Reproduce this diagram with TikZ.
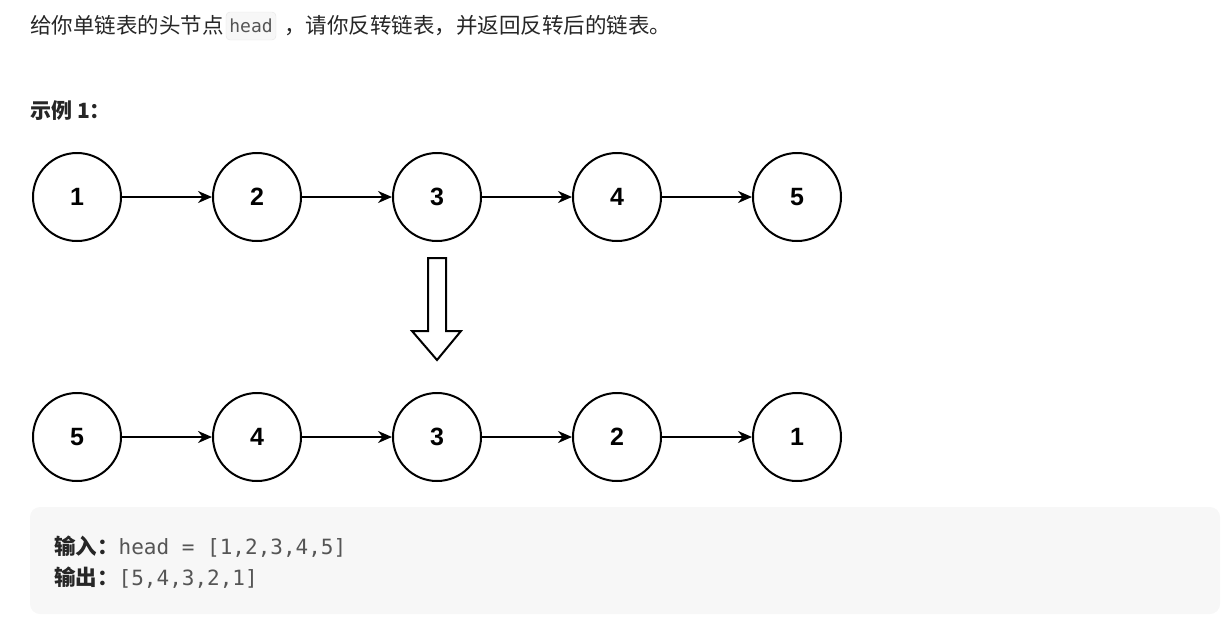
\documentclass[tikz,border=0pt]{standalone}
\usepackage{fontspec}
\setmainfont{Liberation Sans}
\setmonofont{DejaVu Sans Mono}
\newfontfamily\cjk{Noto Sans CJK SC}
\usetikzlibrary{chains,positioning,arrows.meta}
\definecolor{boxgray}{HTML}{F7F7F7}
\definecolor{codegray}{HTML}{555555}
\tikzset{
  item/.style={ % one element of the list
    circle, draw, line width=2pt, minimum size=88pt, inner sep=0pt,
    font=\fontsize{25}{25}\selectfont\bfseries, on chain
  },
  link/.style={-{Stealth[length=14pt,width=12pt]}, line width=2pt},
  plain/.style={font=\cjk\fontsize{21.5}{24}\selectfont, text=black!85, anchor=base west, inner sep=0pt}
}

\begin{document}
\begin{tikzpicture}[x=1pt, y=-1pt, node distance=90pt]
  \useasboundingbox (0,0) rectangle (1223,619);

  % heading
  \node[plain] (intro) at (30,33) {给你单链表的头节点};
  \node[draw=black!10, fill=boxgray, rounded corners=4pt, minimum width=50pt, minimum height=28pt,
        font=\ttfamily\fontsize{18}{18}\selectfont, text=codegray] (code) at (251,26) {head};
  \node[plain] (rest) at (284,33) {，请你反转链表，并返回反转后的链表。};
  \node[plain, font=\cjk\bfseries\fontsize{21}{24}\selectfont] (example) at (30,118) {示例 1：};

  % original list
  \begin{scope}[start chain=top going right]
    \node[item] (t1) at (77,197) {1};
    \node[item] (t2) {2};
    \node[item] (t3) {3};
    \node[item] (t4) {4};
    \node[item] (t5) {5};
  \end{scope}
  \foreach \a/\b in {t1/t2,t2/t3,t3/t4,t4/t5}
    \draw[link] (\a) -- (\b);

  % hollow arrow
  \draw[line width=2pt, line join=miter] (428,258) -- (446,258) -- (446,331) -- (461,331)
    -- (437,360) -- (412,331) -- (428,331) -- cycle;

  % reversed list
  \begin{scope}[start chain=bottom going right]
    \node[item] (b5) at (77,437) {5};
    \node[item] (b4) {4};
    \node[item] (b3) {3};
    \node[item] (b2) {2};
    \node[item] (b1) {1};
  \end{scope}
  \foreach \a/\b in {b5/b4,b4/b3,b3/b2,b2/b1}
    \draw[link] (\a) -- (\b);

  % result box
  \fill[boxgray, rounded corners=10pt] (30,507) rectangle (1220,614);
  \node[plain] (input) at (54,554) {{\bfseries 输入：}{\ttfamily\fontsize{21}{24}\selectfont\color{codegray}head = [1,2,3,4,5]}};
  \node[plain] (output) at (54,585) {{\bfseries 输出：}{\ttfamily\fontsize{21}{24}\selectfont\color{codegray}[5,4,3,2,1]}};
\end{tikzpicture}
\end{document}
